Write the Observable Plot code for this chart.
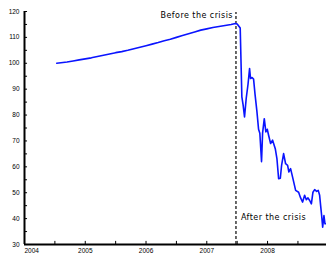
<!DOCTYPE html>
<html>
<head>
<meta charset="utf-8">
<script src="https://cdn.jsdelivr.net/npm/d3@7"></script>
<script src="https://cdn.jsdelivr.net/npm/@observablehq/plot@0.6"></script>
<style>
  html, body { margin: 0; padding: 0; background: #fff; }
</style>
</head>
<body>
<div id="chart"></div>
<script>
// Time (decimal years) and index values
const years = [
  2004.53, 2004.6, 2004.7, 2004.8, 2004.9, 2005.0, 2005.1, 2005.2, 2005.3, 2005.4,
  2005.5, 2005.6, 2005.7, 2005.8, 2005.9, 2006.0, 2006.1, 2006.2, 2006.3, 2006.4,
  2006.5, 2006.6, 2006.7, 2006.8, 2006.9, 2007.0, 2007.1, 2007.2, 2007.3, 2007.4,
  2007.47, 2007.5, 2007.55, 2007.577, 2007.597, 2007.621, 2007.649, 2007.679, 2007.704, 2007.72,
  2007.745, 2007.77, 2007.794, 2007.824, 2007.852, 2007.873, 2007.901, 2007.918, 2007.946, 2007.972,
  2007.995, 2008.017, 2008.05, 2008.083, 2008.127, 2008.154, 2008.182, 2008.21, 2008.231, 2008.264,
  2008.297, 2008.33, 2008.351, 2008.379, 2008.412, 2008.462, 2008.511, 2008.544, 2008.577, 2008.61,
  2008.638, 2008.665, 2008.693, 2008.721, 2008.747, 2008.775, 2008.808, 2008.834, 2008.857, 2008.873,
  2008.89, 2008.907, 2008.928, 2008.945, 2008.964
];
const values = [
  100.0, 100.2, 100.5, 100.9, 101.3, 101.7, 102.1, 102.6, 103.1, 103.6,
  104.1, 104.5, 105.0, 105.6, 106.2, 106.8, 107.4, 108.0, 108.7, 109.3,
  110.0, 110.7, 111.4, 112.1, 112.8, 113.3, 113.8, 114.2, 114.6, 115.0,
  115.4, 115.2, 113.6, 87.0, 84.0, 79.3, 86.5, 92.0, 98.0, 94.1,
  94.5, 93.9, 88.0, 81.6, 74.5, 73.0, 62.0, 73.0, 78.6, 73.5,
  74.5, 72.2, 69.0, 70.3, 67.0, 63.2, 55.4, 55.6, 60.6, 65.1,
  61.2, 60.6, 58.0, 59.3, 56.0, 50.9, 50.2, 48.0, 46.4, 49.0,
  47.3, 48.0, 47.0, 45.7, 50.2, 51.2, 50.5, 50.9, 49.0, 45.1,
  41.2, 36.7, 41.2, 38.0, 38.0
];

const crisisYear = 2007.48;
const yearTicks = [2004, 2005, 2006, 2007, 2008];
const halfYearTicks = [2004.5, 2005, 2005.5, 2006, 2006.5, 2007, 2007.5, 2008, 2008.5];
const yLabelTicks = [30, 40, 50, 60, 70, 80, 90, 100, 110, 120];
const yMinorTicks = [35, 40, 45, 50, 55, 60, 65, 70, 75, 80, 85, 90, 95, 100, 105, 110, 115, 120];
const annotationText = ["Before the crisis", "After the crisis"];
const annotationY = [118.5, 40.5];

const series = years.map((x, i) => ({x, y: values[i]}));
const notes = annotationText.map((t, i) => ({t, y: annotationY[i]}));

const chart = Plot.plot({
  width: 326,
  height: 256,
  marginLeft: 24,
  marginRight: 0,
  marginTop: 11,
  marginBottom: 12,
  style: {fontFamily: "Liberation Sans, Arial, sans-serif", fontSize: "6.5px", background: "#fff", color: "#000"},
  x: {domain: [2004, 2008.97], type: "linear", label: null},
  y: {domain: [30, 120], label: null},
  marks: [
    // tick labels
    Plot.axisY({ticks: yLabelTicks, tickSize: 0, tickPadding: 5, tickFormat: d => String(d), label: null, fill: "#000"}),
    Plot.axisX({ticks: yearTicks.slice(1), tickSize: 0, tickPadding: 4, tickFormat: d => String(d), label: null, fill: "#000"}),
    Plot.axisX({ticks: yearTicks.slice(0, 1), tickSize: 0, tickPadding: 4, tickFormat: d => String(d), label: null, textAnchor: "start", fill: "#000"}),
    // inward ticks
    Plot.ruleX(halfYearTicks, {x: d => d, y1: 30, y2: 31.2, stroke: "#000", strokeWidth: 1}),
    Plot.ruleY(yMinorTicks, {y: d => d, x1: 2004, x2: 2004.05, stroke: "#000", strokeWidth: 1}),
    // dashed crisis line
    Plot.ruleX([crisisYear], {x: d => d, y1: 30, y2: 119.6, stroke: "#444", strokeWidth: 1.6, strokeDasharray: "3,2"}),
    // series
    Plot.line(series, {x: "x", y: "y", stroke: "#0a14ff", strokeWidth: 1.6, curve: "linear"}),
    // annotations
    Plot.text(notes.slice(0, 1), {x: () => crisisYear, y: "y", text: "t", textAnchor: "end", dx: -3, fontFamily: "DejaVu Sans, sans-serif", fontSize: 8, fill: "#000"}),
    Plot.text(notes.slice(1), {x: () => crisisYear, y: "y", text: "t", textAnchor: "start", dx: 5, fontFamily: "DejaVu Sans, sans-serif", fontSize: 8, fill: "#000"}),
    // axis lines
    Plot.ruleY([30], {stroke: "#000", strokeWidth: 2}),
    Plot.ruleX([2004], {y1: 30, y2: 120, stroke: "#000", strokeWidth: 2})
  ]
});

chart.querySelectorAll("text").forEach(t => {
  if (t.textContent.includes("crisis")) t.style.letterSpacing = "0.45px";
});
document.getElementById("chart").appendChild(chart);
</script>
</body>
</html>
